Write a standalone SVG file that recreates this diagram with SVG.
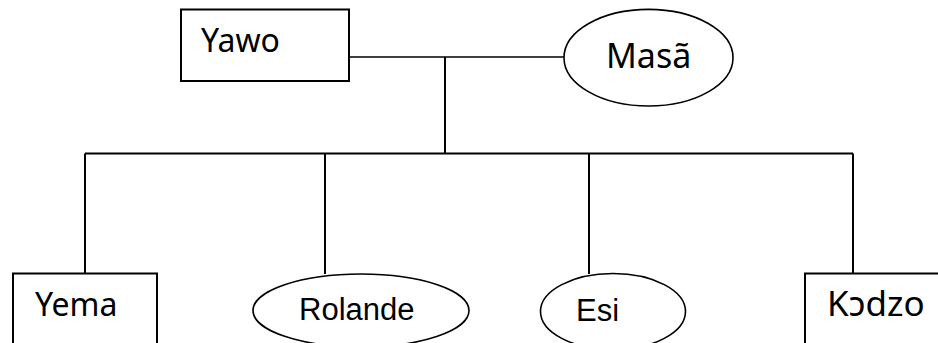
<svg xmlns="http://www.w3.org/2000/svg" width="938" height="343" viewBox="0 0 938 343">
<style>
.box{fill:#fff;stroke:#000;stroke-width:2}
.ell{fill:#fff;stroke:#000;stroke-width:1.6}
.con{fill:none;stroke:#000;stroke-width:2}
.lg{font-family:"Noto Sans","DejaVu Sans",sans-serif;fill:#000}
.ar{font-family:"Liberation Sans",Arial,sans-serif;fill:#000;font-size:31px}
</style>
<rect width="938" height="343" fill="#fff"/>
<g id="connectors">
<path class="con" d="M349 57H564" style="stroke-width:1.6"/>
<path class="con" d="M445 57V153.5"/>
<path class="con" d="M85 153.5H853"/>
<path class="con" d="M85 153.5V273"/>
<path class="con" d="M325 153.5V274"/>
<path class="con" d="M589 153.5V274"/>
<path class="con" d="M853 153.5V273"/>
</g>
<g id="yawo">
<rect class="box" x="181" y="9.5" width="168" height="71.5"/>
<text class="lg" x="201" y="52" font-size="32">Yawo</text>
</g>
<g id="masa">
<ellipse class="ell" cx="648.5" cy="57.7" rx="84.5" ry="48.3"/>
<text class="lg" x="606" y="68" font-size="34">Masã</text>
</g>
<g id="yema">
<rect class="box" x="13" y="273.5" width="144" height="90"/>
<text class="lg" x="35" y="316" font-size="32">Yema</text>
</g>
<g id="rolande">
<ellipse class="ell" cx="361" cy="310.5" rx="108" ry="36.5"/>
<text class="ar" x="299" y="320">Rolande</text>
</g>
<g id="esi">
<ellipse class="ell" cx="613" cy="311.5" rx="72.5" ry="38"/>
<text class="ar" x="576" y="321">Esi</text>
</g>
<g id="kodzo">
<rect class="box" x="805" y="273.5" width="160" height="90"/>
<text class="lg" x="827" y="316" font-size="35">Kɔdzo</text>
</g>
</svg>
